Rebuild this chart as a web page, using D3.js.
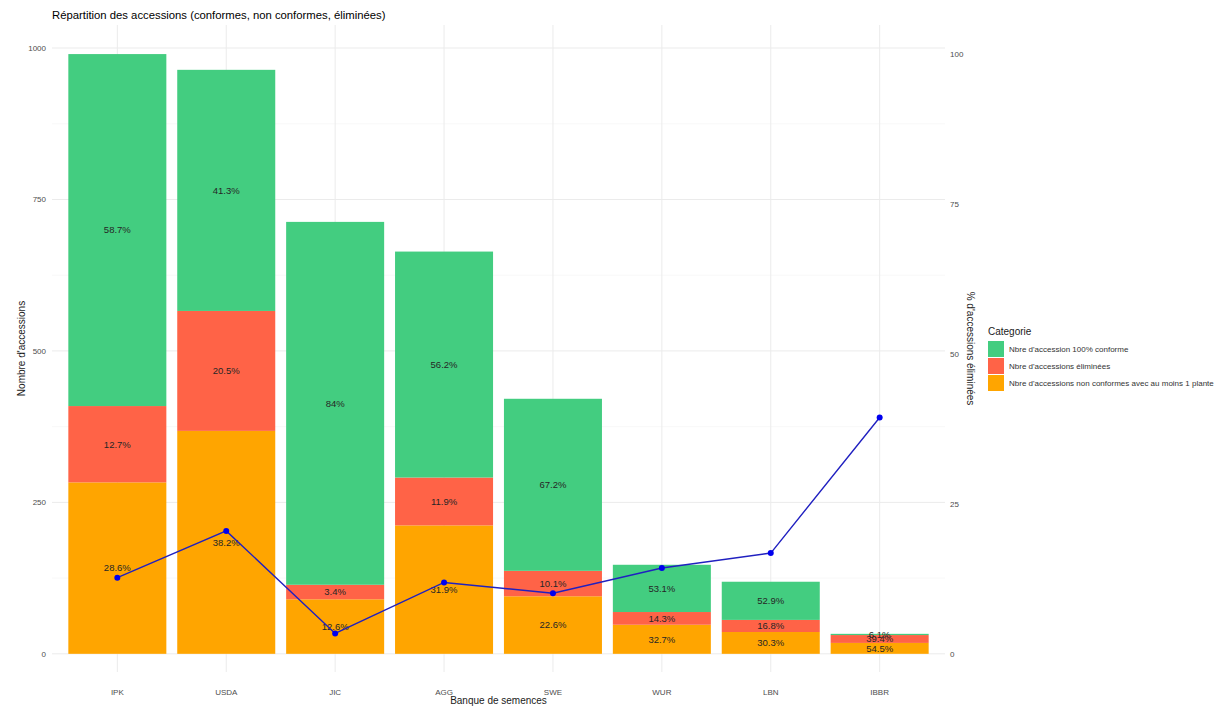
<!DOCTYPE html>
<html>
<head>
<meta charset="utf-8">
<script src="https://cdn.jsdelivr.net/npm/d3@7"></script>
<style>
  body { margin: 0; background: #fff; }
  text { font-family: "Liberation Sans", Arial, sans-serif; }
</style>
</head>
<body>
<svg id="chart"></svg>
<script>
// données
const banques = ["IPK", "USDA", "JIC", "AGG", "SWE", "WUR", "LBN", "IBBR"];
const nonConformes = [283, 368, 90, 212, 95, 48, 36, 18];
const eliminees = [126, 198, 24, 79, 42, 21, 20, 13];
const conformes = [581, 398, 599, 373, 284, 78, 63, 2];

const pctNonConformes = [28.6, 38.2, 12.6, 31.9, 22.6, 32.7, 30.3, 54.5];
const pctEliminees = [12.7, 20.5, 3.4, 11.9, 10.1, 14.3, 16.8, 39.4];
const pctConformes = [58.7, 41.3, 84, 56.2, 67.2, 53.1, 52.9, 6.1];

const yTicks = [0, 250, 500, 750, 1000];
const yMinor = [125, 375, 625, 875];
const y2Ticks = [0, 25, 50, 75, 100];

const categories = [
  { key: "nc", label: "Nbre d'accessions non conformes avec au moins 1 plante", color: "#FFA500", values: nonConformes, pct: pctNonConformes },
  { key: "el", label: "Nbre d'accessions éliminées", color: "#FF6347", values: eliminees, pct: pctEliminees },
  { key: "co", label: "Nbre d'accession 100% conforme", color: "#43CD80", values: conformes, pct: pctConformes }
];
const legendOrder = ["co", "el", "nc"];

const W = 1222, H = 706;
const svg = d3.select("#chart").attr("width", W).attr("height", H);

const panel = { left: 52, right: 945, top: 25, bottom: 672 };

const x = d3.scaleBand()
    .domain(banques)
    .range([panel.left, panel.right])
    .paddingInner(0.1)
    .paddingOuter(0.15);

const y = d3.scaleLinear().domain([-30, 1038]).range([panel.bottom, panel.top]);

// axe secondaire : % rapporté au total maximum
const totals = banques.map((b, i) => nonConformes[i] + eliminees[i] + conformes[i]);
const maxTotal = d3.max(totals);
const y2 = d3.scaleLinear().domain([-30 * 100 / maxTotal, 1038 * 100 / maxTotal]).range([panel.bottom, panel.top]);

// grille
const grid = svg.append("g");
grid.selectAll(".minor").data(yMinor).enter().append("line")
    .attr("x1", panel.left).attr("x2", panel.right)
    .attr("y1", d => y(d)).attr("y2", d => y(d))
    .attr("stroke", "#f3f3f3").attr("stroke-width", 0.6);
grid.selectAll(".major").data(yTicks).enter().append("line")
    .attr("x1", panel.left).attr("x2", panel.right)
    .attr("y1", d => y(d)).attr("y2", d => y(d))
    .attr("stroke", "#ebebeb").attr("stroke-width", 1);
grid.selectAll(".vx").data(banques).enter().append("line")
    .attr("x1", d => x(d) + x.bandwidth() / 2).attr("x2", d => x(d) + x.bandwidth() / 2)
    .attr("y1", panel.top).attr("y2", panel.bottom)
    .attr("stroke", "#ebebeb").attr("stroke-width", 1);

// barres empilées
const stackData = banques.map((b, i) => {
  let acc = 0;
  return categories.map(c => {
    const seg = { banque: b, y0: acc, y1: acc + c.values[i], color: c.color, pct: c.pct[i] };
    acc += c.values[i];
    return seg;
  });
}).flat();

svg.append("g").selectAll("rect").data(stackData).enter().append("rect")
    .attr("x", d => x(d.banque))
    .attr("width", x.bandwidth())
    .attr("y", d => y(d.y1))
    .attr("height", d => y(d.y0) - y(d.y1))
    .attr("fill", d => d.color);

svg.append("g").selectAll("text").data(stackData).enter().append("text")
    .attr("x", d => x(d.banque) + x.bandwidth() / 2)
    .attr("y", d => y((d.y0 + d.y1) / 2))
    .attr("dy", "0.35em")
    .attr("text-anchor", "middle")
    .attr("font-size", 9.5)
    .attr("fill", "#262626")
    .text(d => (+d.pct.toFixed(1)) + "%");

// courbe des éliminées
const line = d3.line()
    .x((d, i) => x(banques[i]) + x.bandwidth() / 2)
    .y(d => y2(d));

svg.append("path").datum(pctEliminees)
    .attr("d", line)
    .attr("fill", "none")
    .attr("stroke", "#2020c0")
    .attr("stroke-width", 1.4);

svg.append("g").selectAll("circle").data(pctEliminees).enter().append("circle")
    .attr("cx", (d, i) => x(banques[i]) + x.bandwidth() / 2)
    .attr("cy", d => y2(d))
    .attr("r", 3)
    .attr("fill", "#0000ee");

// axes
const tickStyle = sel => sel.attr("font-size", 8).attr("fill", "#4d4d4d");

svg.append("g").selectAll("text").data(yTicks).enter().append("text")
    .attr("x", 46).attr("y", d => y(d)).attr("dy", "0.35em")
    .attr("text-anchor", "end").call(tickStyle).text(d => d);

svg.append("g").selectAll("text").data(y2Ticks).enter().append("text")
    .attr("x", 950).attr("y", d => y2(d)).attr("dy", "0.35em")
    .attr("text-anchor", "start").call(tickStyle).text(d => d);

svg.append("g").selectAll("text").data(banques).enter().append("text")
    .attr("x", d => x(d) + x.bandwidth() / 2).attr("y", 692).attr("dy", "0.35em")
    .attr("text-anchor", "middle").call(tickStyle).text(d => d);

svg.append("text")
    .attr("x", (panel.left + panel.right) / 2).attr("y", 704)
    .attr("text-anchor", "middle").attr("font-size", 10).attr("fill", "#1a1a1a")
    .text("Banque de semences");

svg.append("text")
    .attr("transform", `translate(25,${(panel.top + panel.bottom) / 2}) rotate(-90)`)
    .attr("text-anchor", "middle").attr("font-size", 10).attr("fill", "#1a1a1a")
    .text("Nombre d'accessions");

svg.append("text")
    .attr("transform", `translate(967,${(panel.top + panel.bottom) / 2}) rotate(90)`)
    .attr("text-anchor", "middle").attr("font-size", 10).attr("fill", "#1a1a1a")
    .text("% d'accessions éliminées");

// titre
svg.append("text")
    .attr("x", 52).attr("y", 19)
    .attr("font-size", 11.3).attr("fill", "#000")
    .text("Répartition des accessions (conformes, non conformes, éliminées)");

// légende
const legend = svg.append("g").attr("transform", "translate(988,335)");
legend.append("text").attr("x", 0).attr("y", 0)
    .attr("font-size", 10).attr("fill", "#1a1a1a").text("Categorie");
const items = legend.selectAll(".item")
    .data(legendOrder.map(k => categories.find(c => c.key === k)))
    .enter().append("g")
    .attr("transform", (d, i) => `translate(0,${6 + i * 17})`);
items.append("rect").attr("width", 16).attr("height", 16).attr("fill", d => d.color);
items.append("text").attr("x", 21).attr("y", 8).attr("dy", "0.35em")
    .attr("font-size", 8).attr("fill", "#333").text(d => d.label);
</script>
</body>
</html>
